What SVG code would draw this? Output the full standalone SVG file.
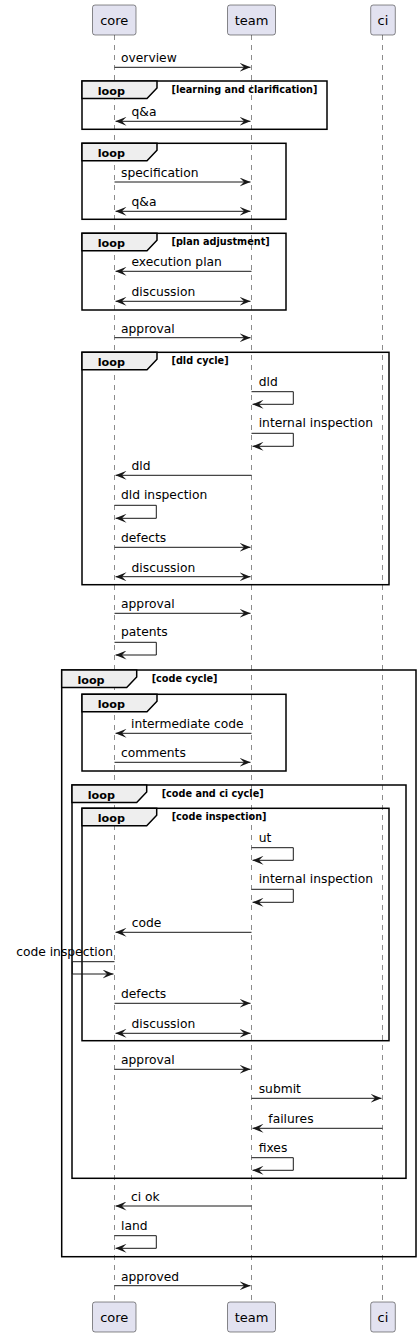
<svg xmlns="http://www.w3.org/2000/svg" width="420" height="1337" viewBox="0 0 420 1337">
<style>
.bg{fill:#FFFFFF}
.pbox{fill:#E2E2F0;stroke:#181818;stroke-width:0.5}
.ptxt{font-family:"DejaVu Sans",sans-serif;font-size:13px;fill:#000;text-anchor:middle}
.life{stroke:#181818;stroke-width:0.5;stroke-dasharray:5,5;fill:none}
.frame{fill:none;stroke:#000;stroke-width:1.5}
.tab{fill:#EEEEEE;stroke:#000;stroke-width:1.5}
.ftxt{font-family:"DejaVu Sans",sans-serif;font-size:11.2px;font-weight:bold;fill:#000}
.ctxt{font-family:"DejaVu Sans",sans-serif;font-size:9.7px;font-weight:bold;fill:#000}
.msg{stroke:#181818;stroke-width:1;fill:none;marker-end:url(#ah)}
.both{marker-start:url(#ah)}
.mtxt{font-family:"DejaVu Sans",sans-serif;font-size:12.3px;fill:#000}
</style>
<defs>
<marker id="ah" markerUnits="userSpaceOnUse" markerWidth="11" markerHeight="9" viewBox="0 0 11 9" refX="11" refY="4.5" orient="auto-start-reverse">
<path d="M0,0 L11,4.5 L0,9 L4.5,4.5 Z" fill="#181818"/>
</marker>
</defs>
<rect class="bg" x="0" y="0" width="420" height="1337"/>

<g id="core">
<line class="life" x1="114.5" y1="35" x2="114.5" y2="1302"/>
<rect class="pbox" x="92.5" y="5" width="43.5" height="30" rx="2.5"/>
<text class="ptxt" x="114.3" y="25">core</text>
<rect class="pbox" x="92.5" y="1302" width="43.5" height="30" rx="2.5"/>
<text class="ptxt" x="114.3" y="1322">core</text>
</g>
<g id="team">
<line class="life" x1="251.5" y1="35" x2="251.5" y2="1302"/>
<rect class="pbox" x="227.5" y="5" width="48" height="30" rx="2.5"/>
<text class="ptxt" x="251.5" y="25">team</text>
<rect class="pbox" x="227.5" y="1302" width="48" height="30" rx="2.5"/>
<text class="ptxt" x="251.5" y="1322">team</text>
</g>
<g id="ci">
<line class="life" x1="382.5" y1="35" x2="382.5" y2="1302"/>
<rect class="pbox" x="370.7" y="5" width="24.6" height="30" rx="2.5"/>
<text class="ptxt" x="383" y="25">ci</text>
<rect class="pbox" x="370.7" y="1302" width="24.6" height="30" rx="2.5"/>
<text class="ptxt" x="383" y="1322">ci</text>
</g>

<g id="loop-learning">
<rect class="frame" x="82" y="81" width="245" height="48.3"/>
<polygon class="tab" points="82,81 157,81 157,88 147,98.5 82,98.5"/>
<text class="ftxt" x="97.7" y="94.5">loop</text>
<text class="ctxt" x="171.5" y="93">[learning and clarification]</text>
</g>
<g id="loop-spec">
<rect class="frame" x="82" y="143.3" width="204" height="76"/>
<polygon class="tab" points="82,143.3 157,143.3 157,150.3 147,160.8 82,160.8"/>
<text class="ftxt" x="97.7" y="156.8">loop</text>
</g>
<g id="loop-plan">
<rect class="frame" x="82" y="233.3" width="204" height="76.7"/>
<polygon class="tab" points="82,233.3 157,233.3 157,240.3 147,250.8 82,250.8"/>
<text class="ftxt" x="97.7" y="246.8">loop</text>
<text class="ctxt" x="171.5" y="245.3">[plan adjustment]</text>
</g>
<g id="loop-dld">
<rect class="frame" x="82" y="352.3" width="307" height="232.4"/>
<polygon class="tab" points="82,352.3 157,352.3 157,359.3 147,369.8 82,369.8"/>
<text class="ftxt" x="97.7" y="365.8">loop</text>
<text class="ctxt" x="171.5" y="364.3">[dld cycle]</text>
</g>
<g id="loop-code">
<rect class="frame" x="61.7" y="670" width="354.3" height="586.7"/>
<polygon class="tab" points="61.7,670 136.7,670 136.7,677 126.7,687.5 61.7,687.5"/>
<text class="ftxt" x="77.4" y="683.5">loop</text>
<text class="ctxt" x="151.7" y="682">[code cycle]</text>
</g>
<g id="loop-intermediate">
<rect class="frame" x="82" y="694.3" width="204" height="76.7"/>
<polygon class="tab" points="82,694.3 157,694.3 157,701.3 147,711.8 82,711.8"/>
<text class="ftxt" x="97.7" y="707.8">loop</text>
</g>
<g id="loop-codeci">
<rect class="frame" x="72" y="785" width="334" height="393.3"/>
<polygon class="tab" points="72,785 146.7,785 146.7,792 136.7,802.5 72,802.5"/>
<text class="ftxt" x="87.7" y="798.5">loop</text>
<text class="ctxt" x="161.7" y="797">[code and ci cycle]</text>
</g>
<g id="loop-codeinsp">
<rect class="frame" x="82" y="808.3" width="307" height="232.4"/>
<polygon class="tab" points="82,808.3 156.7,808.3 156.7,815.3 146.7,825.8 82,825.8"/>
<text class="ftxt" x="97.7" y="821.8">loop</text>
<text class="ctxt" x="171.7" y="820.3">[code inspection]</text>
</g>

<g id="connectors">
<path class="msg" d="M114.5,67.3 H250.5"/>
<text class="mtxt" x="121" y="62.3">overview</text>
<path class="msg both" d="M115.5,121.3 H250.5"/>
<text class="mtxt" x="131.5" y="116.3">q&amp;a</text>
<path class="msg" d="M114.5,182 H250.5"/>
<text class="mtxt" x="121" y="177">specification</text>
<path class="msg both" d="M115.5,211.3 H250.5"/>
<text class="mtxt" x="131.5" y="206.3">q&amp;a</text>
<path class="msg" d="M251.5,271.3 H115.5"/>
<text class="mtxt" x="131.5" y="266.3">execution plan</text>
<path class="msg both" d="M115.5,301.3 H250.5"/>
<text class="mtxt" x="131.5" y="296.3">discussion</text>
<path class="msg" d="M114.5,337.7 H250.5"/>
<text class="mtxt" x="121" y="332.7">approval</text>
<path class="msg" d="M251.5,391.7 H293.3 V404.3 H252.5"/>
<text class="mtxt" x="258.7" y="385.7">dld</text>
<path class="msg" d="M251.5,433.3 H293.3 V446.3 H252.5"/>
<text class="mtxt" x="258.7" y="427.3">internal inspection</text>
<path class="msg" d="M251.5,475.3 H115.5"/>
<text class="mtxt" x="131.5" y="470.3">dld</text>
<path class="msg" d="M114.5,505.3 H156.3 V518.3 H115.5"/>
<text class="mtxt" x="121" y="499.3">dld inspection</text>
<path class="msg" d="M114.5,547.3 H250.5"/>
<text class="mtxt" x="121" y="542.3">defects</text>
<path class="msg both" d="M115.5,576.7 H250.5"/>
<text class="mtxt" x="131.5" y="571.7">discussion</text>
<path class="msg" d="M114.5,613.3 H250.5"/>
<text class="mtxt" x="121" y="608.3">approval</text>
<path class="msg" d="M114.5,642.3 H156.3 V655 H115.5"/>
<text class="mtxt" x="121" y="636.3">patents</text>
<path class="msg" d="M251.5,733.3 H115.5"/>
<text class="mtxt" x="131" y="728.3">intermediate code</text>
<path class="msg" d="M114.5,762.3 H250.5"/>
<text class="mtxt" x="121" y="757.3">comments</text>
<path class="msg" d="M251.5,847.7 H293.3 V860.3 H252.5"/>
<text class="mtxt" x="258.7" y="841.7">ut</text>
<path class="msg" d="M251.5,889.3 H293.3 V902.3 H252.5"/>
<text class="mtxt" x="258.7" y="883.3">internal inspection</text>
<path class="msg" d="M251.5,932.3 H115.5"/>
<text class="mtxt" x="131.7" y="927.3">code</text>
<path class="msg" d="M114.5,961.7 H72.3 V974 H113.5"/>
<text class="mtxt" x="113" y="956" text-anchor="end">code inspection</text>
<path class="msg" d="M114.5,1003.3 H250.5"/>
<text class="mtxt" x="121" y="998.3">defects</text>
<path class="msg both" d="M115.5,1033.3 H250.5"/>
<text class="mtxt" x="131.5" y="1028.3">discussion</text>
<path class="msg" d="M114.5,1069.3 H250.5"/>
<text class="mtxt" x="121" y="1064.3">approval</text>
<path class="msg" d="M251.5,1098.3 H381.5"/>
<text class="mtxt" x="258.7" y="1093.3">submit</text>
<path class="msg" d="M382.5,1128.3 H252.5"/>
<text class="mtxt" x="268.3" y="1123.3">failures</text>
<path class="msg" d="M251.5,1157.7 H293.3 V1170.3 H252.5"/>
<text class="mtxt" x="258.7" y="1151.7">fixes</text>
<path class="msg" d="M251.5,1206 H115.5"/>
<text class="mtxt" x="131" y="1201">ci ok</text>
<path class="msg" d="M114.5,1235.7 H156.3 V1248.3 H115.5"/>
<text class="mtxt" x="121" y="1229.7">land</text>
<path class="msg" d="M114.5,1285.7 H250.5"/>
<text class="mtxt" x="121" y="1280.7">approved</text>
</g>
</svg>
